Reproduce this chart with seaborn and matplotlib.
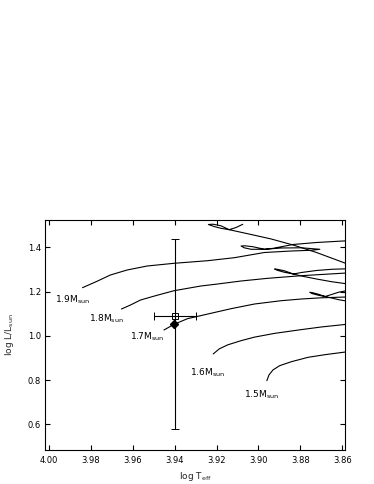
import matplotlib
matplotlib.use("Agg")
import matplotlib.pyplot as plt
import seaborn as sns
import pandas as pd

# ---- evolutionary tracks (log Teff, log L/Lsun) ----
m15_logt = [3.8960, 3.8950, 3.8931, 3.8899, 3.8843, 3.8763, 3.8683, 3.8579]
m15_logl = [0.7971, 0.8228, 0.8454, 0.8649, 0.8829, 0.9028, 0.9146, 0.9275]

m16_logt = [3.9216, 3.9187, 3.9147, 3.9083, 3.9019, 3.8923, 3.8795, 3.8699, 3.8579]
m16_logl = [0.918, 0.941, 0.959, 0.978, 0.994, 1.011, 1.028, 1.040, 1.052]

m17_logt = [3.9451, 3.9403, 3.9339, 3.9227, 3.9131, 3.9019, 3.8891, 3.8795, 3.8699, 3.8579]
m17_logl = [1.0262, 1.0520, 1.0773, 1.1017, 1.1225, 1.1437, 1.1587, 1.1663, 1.1718, 1.1754]

m18_logt = [3.9654, 3.9611, 3.9563, 3.9491, 3.9403, 3.9275, 3.9195, 3.9083, 3.8955, 3.8795, 3.8579]
m18_logl = [1.1211, 1.1392, 1.1618, 1.1813, 1.2038, 1.2251, 1.2341, 1.2477, 1.2599, 1.2717, 1.2839]

# 1.9 Msun: main sequence, hook and return
m19_logt = [3.9840, 3.9771, 3.9707, 3.9627, 3.9531, 3.9403, 3.9243, 3.9115, 3.8972,
            3.8843, 3.8747, 3.8707, 3.8795, 3.8891, 3.8971, 3.9035, 3.9068, 3.9083,
            3.9064, 3.9025, 3.8971, 3.8929, 3.8835, 3.8723, 3.8579]
m19_logl = [1.2174, 1.2463, 1.2748, 1.2974, 1.3155, 1.3277, 1.3394, 1.3530, 1.3765,
            1.3833, 1.3865, 1.3910, 1.3978, 1.3969, 1.3910, 1.3910, 1.3978, 1.4059,
            1.4068, 1.4023, 1.3910, 1.3955, 1.4127, 1.4217, 1.4294]

# upper hook
top_logt = [3.8579, 3.8723, 3.8835, 3.8939, 3.9035, 3.9140, 3.9179, 3.9212, 3.9239,
            3.9217, 3.9179, 3.9140, 3.9107, 3.9075]
top_logl = [1.3259, 1.3765, 1.4104, 1.4375, 1.4579, 1.4796, 1.4859, 1.4940, 1.5031,
            1.5044, 1.4972, 1.4796, 1.4895, 1.5040]

# hook near 1.30
h2_logt = [3.8579, 3.8651, 3.8723, 3.8795, 3.8833, 3.8876, 3.8910, 3.8923,
           3.8910, 3.8876, 3.8833, 3.8795, 3.8723, 3.8651, 3.8579]
h2_logl = [1.3028, 1.3006, 1.2952, 1.2861, 1.2793, 1.2870, 1.2961, 1.3019,
           1.3006, 1.2938, 1.2793, 1.2703, 1.2567, 1.2445, 1.2350]

# hook near 1.20
h1_logt = [3.8579, 3.8617, 3.8651, 3.8682, 3.8713, 3.8742, 3.8755,
           3.8742, 3.8713, 3.8682, 3.8651, 3.8617, 3.8579]
h1_logl = [1.2039, 1.1971, 1.1867, 1.1776, 1.1831, 1.1903, 1.1966,
           1.1948, 1.1876, 1.1776, 1.1709, 1.1632, 1.1569]

# ---- star ----
star_obs_t, star_obs_l = 3.940, 1.091
star_terr = 0.010
star_lerr_lo, star_lerr_hi = 0.512, 0.347
star_fit_t, star_fit_l = 3.9403, 1.052

# ---- labels ----
label_texts = [r'$\mathregular{1.9M_{sun}}$', r'$\mathregular{1.8M_{sun}}$',
               r'$\mathregular{1.7M_{sun}}$', r'$\mathregular{1.6M_{sun}}$',
               r'$\mathregular{1.5M_{sun}}$']
label_t = [3.9971, 3.9811, 3.9614, 3.9328, 3.9067]
label_l = [1.162, 1.076, 0.995, 0.833, 0.732]

xticks = [4.00, 3.98, 3.96, 3.94, 3.92, 3.90, 3.88, 3.86]
yticks = [0.6, 0.8, 1.0, 1.2, 1.4]

sns.set_theme(style="ticks")
plt.rcParams['font.family'] = ['DejaVu Sans']
plt.rcParams['mathtext.fontset'] = 'dejavusans'

fig = plt.figure(figsize=(3.74, 4.84), dpi=100)
ax = fig.add_axes([45 / 374, 1 - 450 / 484, 300 / 374, 230 / 484])

tracks = [(m15_logt, m15_logl), (m16_logt, m16_logl), (m17_logt, m17_logl),
          (m18_logt, m18_logl), (m19_logt, m19_logl), (top_logt, top_logl),
          (h2_logt, h2_logl), (h1_logt, h1_logl)]
for t, l in tracks:
    df = pd.DataFrame({'logT': t, 'logL': l})
    sns.lineplot(data=df, x='logT', y='logL', sort=False, estimator=None,
                 color='black', linewidth=0.8, ax=ax)

ax.errorbar(star_obs_t, star_obs_l, xerr=star_terr,
            yerr=[[star_lerr_lo], [star_lerr_hi]], fmt='s', mfc='none',
            mec='black', ms=4.3, mew=0.7, ecolor='black', elinewidth=0.8,
            capsize=3, capthick=0.8, zorder=3)
ax.plot(star_fit_t, star_fit_l, marker='D', color='black', ms=4.3, zorder=4)

for txt, t, l in zip(label_texts, label_t, label_l):
    ax.text(t, l, txt, fontsize=6.5, ha='left', va='center', color='black')

ax.set_xlim(4.0019, 3.8587)
ax.set_ylim(0.4838, 1.5234)
ax.set_xticks(xticks)
ax.set_xticklabels([f'{v:.2f}' for v in xticks])
ax.set_yticks(yticks)
ax.set_yticklabels([f'{v:.1f}' for v in yticks])
ax.tick_params(direction='in', top=True, right=True, length=3.6, width=0.8,
               labelsize=6, color='black', labelcolor='black')
ax.tick_params(axis='x', pad=4)
ax.tick_params(axis='y', pad=3)
for s in ax.spines.values():
    s.set_linewidth(0.8)
    s.set_color('black')

ax.set_xlabel(r'$\mathregular{log\ T_{eff}}$', fontsize=6.5, labelpad=4)
ax.set_ylabel(r'$\mathregular{log\ L/L_{sun}}$', fontsize=6.5, labelpad=8)

fig.savefig('out.png', dpi=100)
